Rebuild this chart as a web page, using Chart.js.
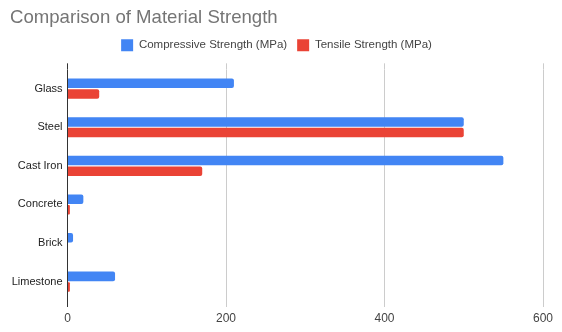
<!DOCTYPE html>
<html>
<head>
<meta charset="utf-8">
<title>Comparison of Material Strength</title>
<script src="https://cdn.jsdelivr.net/npm/chart.js@4/dist/chart.umd.min.js"></script>
<style>
    html, body { margin: 0; padding: 0; background: #fff; }
    #wrap { width: 562px; height: 332px; }
</style>
</head>
<body>
<div id="wrap"><canvas id="strengthChart" width="562" height="332"></canvas></div>
<script>
// Chart data
const materials = ['Glass', 'Steel', 'Cast Iron', 'Concrete', 'Brick', 'Limestone'];
const compressive = [210, 500, 550, 20, 7, 60];
const tensile = [40, 500, 170, 3, 0, 3];
const xTicks = [0, 200, 400, 600];

const FONT = '"Liberation Sans", Arial, sans-serif';

document.addEventListener('DOMContentLoaded', function() {
    const ctx = document.getElementById('strengthChart').getContext('2d');

    // grid line colour: dark for the zero baseline, light grey otherwise
    const gridColor = c => (c.tick && c.tick.value === 0) ? '#333333' : '#cccccc';

    new Chart(ctx, {
        type: 'bar',
        data: {
            labels: materials,
            datasets: [{
                label: 'Compressive Strength (MPa)',
                data: compressive,
                backgroundColor: '#4285F4',
                borderRadius: 2,
                borderSkipped: 'start',
                xAxisID: 'x'
            }, {
                label: 'Tensile Strength (MPa)',
                data: tensile,
                backgroundColor: '#EA4335',
                borderRadius: 2,
                borderSkipped: 'start',
                xAxisID: 'x'
            }]
        },
        options: {
            indexAxis: 'y',
            responsive: false,
            animation: false,
            layout: {
                padding: { left: 10, right: 19, top: 0, bottom: 0 }
            },
            datasets: {
                bar: {
                    categoryPercentage: 0.55,
                    barPercentage: 0.9
                }
            },
            scales: {
                x: {
                    position: 'bottom',
                    min: xTicks[0],
                    max: xTicks[xTicks.length - 1],
                    afterBuildTicks: scale => { scale.ticks = xTicks.map(v => ({ value: v })); },
                    grid: { color: gridColor, drawTicks: true, tickLength: 6 },
                    border: { display: false },
                    ticks: {
                        padding: 4,
                        color: '#444444',
                        font: { family: FONT, size: 12 }
                    },
                    afterFit: scale => { scale.height = 31; }
                },
                // only used to carry the grid lines a little above the plot, as in the original
                xTop: {
                    type: 'linear',
                    position: 'top',
                    min: xTicks[0],
                    max: xTicks[xTicks.length - 1],
                    afterBuildTicks: scale => { scale.ticks = xTicks.map(v => ({ value: v })); },
                    grid: { color: gridColor, drawOnChartArea: false, drawTicks: true, tickLength: 6 },
                    border: { display: false },
                    ticks: { display: false },
                    afterFit: scale => { scale.height = 8; }
                },
                y: {
                    grid: { display: false, drawTicks: false },
                    border: { display: false },
                    ticks: {
                        padding: 5,
                        color: '#222222',
                        font: { family: FONT, size: 11 }
                    },
                    afterFit: scale => { scale.width = 57.5; }
                }
            },
            plugins: {
                title: {
                    display: true,
                    text: 'Comparison of Material Strength',
                    align: 'start',
                    color: '#757575',
                    font: { family: FONT, size: 18.6, weight: 'normal' },
                    padding: { top: 7, bottom: 0 }
                },
                legend: {
                    display: true,
                    position: 'top',
                    labels: {
                        boxWidth: 12,
                        boxHeight: 12,
                        padding: 10,
                        color: '#444444',
                        font: { family: FONT, size: 11.5 }
                    }
                },
                tooltip: { enabled: false }
            }
        }
    });
});
</script>
</body>
</html>
